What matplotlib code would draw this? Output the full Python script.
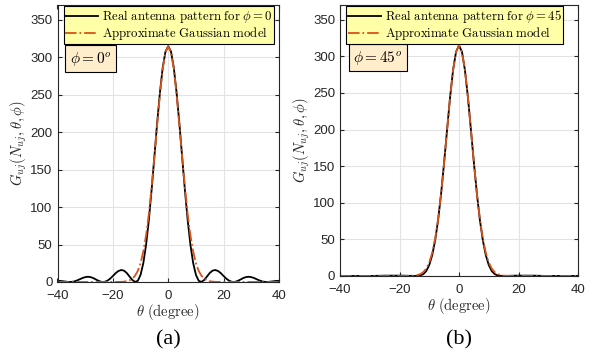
import numpy as np
import matplotlib
matplotlib.use("Agg")
import matplotlib.pyplot as plt

plt.rcParams['mathtext.fontset'] = 'cm'
plt.rcParams['font.family'] = ['Liberation Sans', 'DejaVu Sans']

# angle samples (degree), positive half; the patterns are symmetric
theta_half = [0, 1, 2, 3, 4, 5, 6, 7, 8, 9, 10, 11, 12, 13, 14, 15, 16, 17, 18, 19, 20,
              21, 22, 23, 24, 25, 26, 27, 28, 29, 30, 31, 32, 33, 34, 35, 36, 37, 38, 39, 40]

# (a) phi = 0
real_phi0 = [315, 307.7, 286.3, 253.3, 212.8, 167.7, 123.4, 83.1, 49.9, 25.3, 9.5,
             1.6, 0.1, 2.8, 7.4, 12.1, 15.2, 16.0, 14.7, 11.8, 8.0,
             4.4, 1.7, 0.2, 0.1, 1.3, 3.1, 5.1, 6.5, 7.0, 6.5,
             5.3, 3.6, 2.0, 0.7, 0.1, 0.1, 0.5, 1.0, 1.4, 1.6]
gauss_phi0 = [315, 307, 285, 251, 210, 168, 127, 91, 62.6, 40.8, 25.2,
              14.8, 8.3, 4.4, 2.2, 1.1, 0.5, 0.2, 0.1, 0, 0,
              0, 0, 0, 0, 0, 0, 0, 0, 0, 0,
              0, 0, 0, 0, 0, 0, 0, 0, 0, 0]

# (b) phi = 45
real_phi45 = [315, 306, 281, 244, 200, 155, 113, 77, 49, 28.5, 15,
              6.8, 2.6, 0.8, 0.2, 0.1, 0.2, 0.3, 0.4, 0.5, 0.5,
              0.5, 0.5, 0.5, 0.5, 0.5, 0.4, 0.3, 0.2, 0.1, 0.1,
              0.1, 0.1, 0.1, 0.1, 0.1, 0.1, 0.1, 0.1, 0.1, 0.1]
gauss_phi45 = [315, 306, 281, 244, 200, 155, 113.6, 78.6, 51.4, 31.8, 18.5,
               10.2, 5.3, 2.6, 1.2, 0.54, 0.22, 0.08, 0.03, 0, 0,
               0, 0, 0, 0, 0, 0, 0, 0, 0, 0,
               0, 0, 0, 0, 0, 0, 0, 0, 0, 0]


def full(half):
    h = np.asarray(half, dtype=float)
    return np.concatenate([h[:0:-1], h])


theta = np.concatenate([-np.asarray(theta_half[:0:-1]), np.asarray(theta_half)])

orange = (0.85, 0.325, 0.098)

fig = plt.figure(figsize=(5.95, 3.62), dpi=100)
ax_a = fig.add_axes([57.5 / 595, 1 - 282 / 362, (279 - 57.5) / 595, (282 - 5) / 362])
ax_b = fig.add_axes([340 / 595, 1 - 276 / 362, (578 - 340) / 595, (276 - 5) / 362])

panels = [
    (ax_a, real_phi0, gauss_phi0, '0', r'$\phi = 0^o$', '(a)', 168),
    (ax_b, real_phi45, gauss_phi45, '45', r'$\phi = 45^o$', '(b)', 459),
]

for ax, real, gauss, ph, box_txt, cap, cap_x in panels:
    w_px = ax.get_position().width * 595
    h_px = ax.get_position().height * 362
    ax.plot(theta, full(real), color='black', lw=1.3,
            label=r'$\mathrm{Real\ antenna\ pattern\ for}\ \phi = ' + ph + '$')
    ax.plot(theta, full(gauss), color=orange, lw=1.3, ls='-.',
            label=r'$\mathrm{Approximate\ Gaussian\ model}$')
    ax.set_xlim(-40, 40)
    ax.set_ylim(0, 370)
    ax.set_xticks([-40, -20, 0, 20, 40])
    ax.set_yticks([0, 50, 100, 150, 200, 250, 300, 350])
    ax.grid(True, color='#e3e3e3', lw=0.8)
    ax.set_axisbelow(True)
    ax.tick_params(direction='in', top=True, right=True, labelsize=9.5,
                   colors='#262626', length=3)
    ax.tick_params(axis='x', pad=6)
    for s in ax.spines.values():
        s.set_color('#262626')
        s.set_linewidth(0.8)
    ax.set_xlabel(r'$\theta\ \mathrm{(degree)}$', fontsize=10.5, color='#262626', labelpad=0)
    ax.set_ylabel(r'$G_{uj}(N_{uj},\theta,\phi)$', fontsize=10.5, color='#262626', labelpad=1)
    leg = ax.legend(loc='upper left', bbox_to_anchor=(6 / w_px, 1 - 1.5 / h_px),
                    fontsize=9.2, frameon=True, fancybox=False,
                    handlelength=2.6, handletextpad=0.3, borderpad=0.12,
                    labelspacing=0.0, borderaxespad=0.0, framealpha=1)
    leg.get_frame().set_facecolor((1, 1, 0.66))
    leg.get_frame().set_edgecolor('black')
    leg.get_frame().set_linewidth(0.8)
    ax.text(0.055, 0.838, box_txt, transform=ax.transAxes, fontsize=11, va='top', ha='left',
            bbox=dict(boxstyle='square,pad=0.3', fc=(1, 0.93, 0.8), ec='black', lw=0.8))
    fig.text(cap_x / 595, 1 - 340 / 362, cap, fontsize=16, ha='center', va='center',
             family='Liberation Serif')

fig.savefig('out.png', dpi=100)
